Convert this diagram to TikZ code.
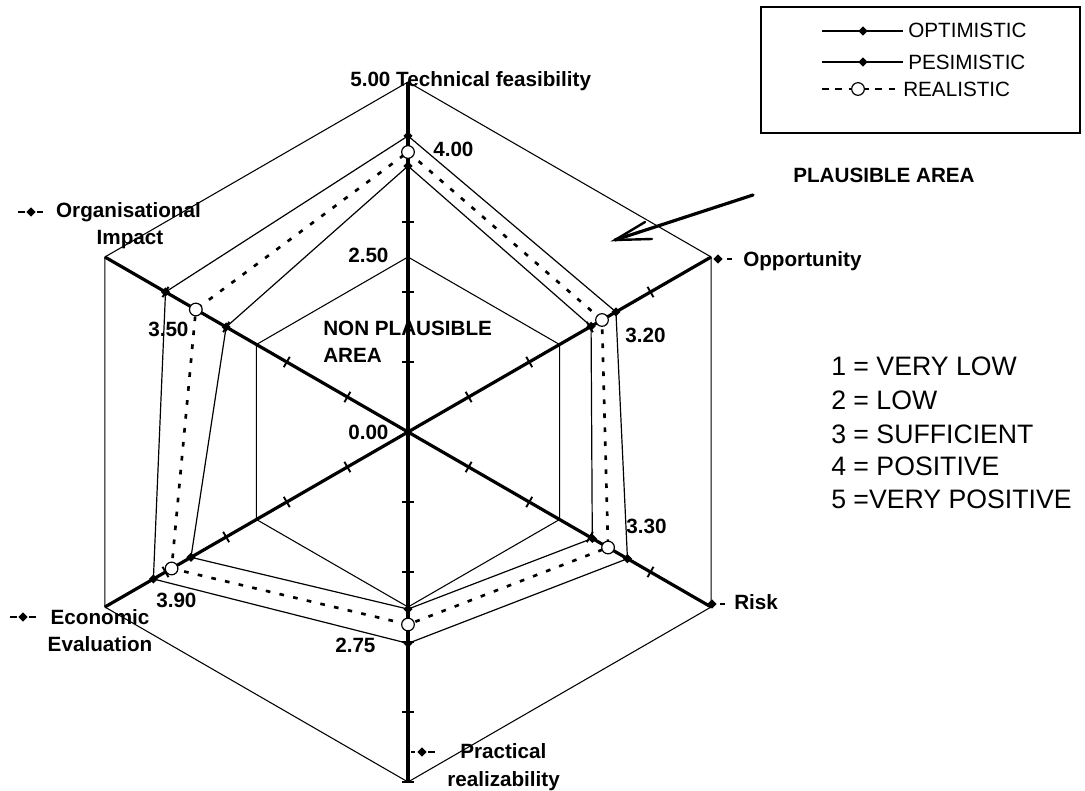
\documentclass[tikz,border=0pt]{standalone}
\usepackage{fontspec}
\setmainfont{Liberation Sans}
\usetikzlibrary{shapes.geometric}
\begin{document}
\begin{tikzpicture}[x=0.75pt,y=-0.75pt,
  lbl/.style={font=\fontsize{15.5}{18}\selectfont\bfseries, inner sep=0pt},
  scaletxt/.style={font=\fontsize{20}{24}\selectfont, inner sep=0pt, anchor=base west},
  legtxt/.style={font=\fontsize{15.5}{18}\selectfont, inner sep=0pt, anchor=base west},
  gridline/.style={line width=0.8pt},
  axisline/.style={line width=2.4pt},
  tickline/.style={line width=1.4pt},
  optline/.style={line width=0.9pt},
  pesline/.style={line width=0.9pt},
  realline/.style={line width=2pt, dash pattern=on 3.5pt off 7pt},
  keydash/.style={line width=0.8pt},
  dmark/.style={diamond, fill=black, inner sep=0pt, minimum width=7pt, minimum height=7pt},
  cmark/.style={circle, draw=black, fill=white, line width=0.9pt, inner sep=0pt, minimum size=9.5pt},
]
\useasboundingbox (0,0) rectangle (1085,791);

% ---------- radar chart ----------
\begin{scope}[shift={(408,432)}, yscale=-1]
  \coordinate (O) at (0,0);
  % axis end points (value 5) and mid grid (value 2.5), 70 units per value
  \foreach \n/\a in {tech/90,opp/30,risk/-30,prac/-90,econ/210,org/150} {
    \coordinate (\n5) at (\a:350);
    \coordinate (\n25) at (\a:175);
  }
  % grid hexagons
  \draw[gridline] (tech5) -- (opp5) -- (risk5) -- (prac5) -- (econ5) -- (org5) -- cycle;
  \draw[gridline] (tech25) -- (opp25) -- (risk25) -- (prac25) -- (econ25) -- (org25) -- cycle;
  % axes
  \foreach \n in {tech,opp,risk,prac,econ,org}
    \draw[axisline] (O) -- (\n5);
  % unit ticks
  \foreach \a in {90,30,-30,-90,210,150}
    \foreach \k in {1,2,3,4}
      \draw[tickline, rotate=\a] (\k*70,-6) -- (\k*70,6);
  \draw[tickline] (-6,-350) -- (6,-350);

  % optimistic
  \coordinate (o1) at (90:296.1);
  \coordinate (o2) at (30:240.1);
  \coordinate (o3) at (-30:253.4);
  \coordinate (o4) at (-90:211.4);
  \coordinate (o5) at (210:294);
  \coordinate (o6) at (150:280);
  % pessimistic
  \coordinate (p1) at (90:266);
  \coordinate (p2) at (30:211.4);
  \coordinate (p3) at (-30:212.8);
  \coordinate (p4) at (-90:177.1);
  \coordinate (p5) at (210:250.6);
  \coordinate (p6) at (150:210);
  % realistic
  \coordinate (r1) at (90:280);
  \coordinate (r2) at (30:224);
  \coordinate (r3) at (-30:231);
  \coordinate (r4) at (-90:192.5);
  \coordinate (r5) at (210:273);
  \coordinate (r6) at (150:245);

  \draw[optline] (o1) -- (o2) -- (o3) -- (o4) -- (o5) -- (o6) -- cycle;
  \draw[pesline] (p1) -- (p2) -- (p3) -- (p4) -- (p5) -- (p6) -- cycle;
  \draw[realline] (r1) -- (r2) -- (r3) -- (r4) -- (r5) -- (r6) -- cycle;
  \foreach \i in {1,...,6} {
    \node[dmark] (mo\i) at (o\i) {};
    \node[dmark] (mp\i) at (p\i) {};
    \node[cmark] (mr\i) at (r\i) {};
  }
\end{scope}

% ---------- axis labels ----------
\node[lbl, anchor=base west] (techlbl) at (350,87) {5.00 Technical feasibility};
\node[lbl, anchor=base] (orglbl1) at (128.5,218) {Organisational};
\node[lbl, anchor=base] (orglbl2) at (130,245) {Impact};
\node[lbl, anchor=base] (econlbl1) at (100,624) {Economic};
\node[lbl, anchor=base] (econlbl2) at (100,651) {Evaluation};
\node[lbl, anchor=base west] (opplbl) at (743,267) {Opportunity};
\node[lbl, anchor=base west] (risklbl) at (734,609) {Risk};
\node[lbl, anchor=base west] (praclbl1) at (460,758) {Practical};
\node[lbl, anchor=base west] (praclbl2) at (447,786) {realizability};

% small key marks in front of the axis labels
\draw[keydash] (18,212) -- (25,212) (37,212) -- (43,212);
\node[dmark] (korg) at (31,212) {};
\draw[keydash] (10,617) -- (17,617) (29,617) -- (36,617);
\node[dmark] (kecon) at (23,617) {};
\node[dmark] (kopp) at (718,259) {};
\draw[keydash] (727,259) -- (732,259);
\node[dmark] (krisk) at (712,604) {};
\draw[keydash] (720,604) -- (725,604);
\draw[keydash] (411,752) -- (415,752) (428,752) -- (435,752);
\node[dmark] (kprac) at (422,752) {};

% ---------- value labels ----------
\node[lbl, anchor=base west] (v400) at (433,157) {4.00};
\node[lbl, anchor=base west] (v250) at (348,263) {2.50};
\node[lbl, anchor=base west] (v000) at (348,440) {0.00};
\node[lbl, anchor=base west] (v350) at (148,337) {3.50};
\node[lbl, anchor=base west] (v320) at (625,343) {3.20};
\node[lbl, anchor=base west] (v330) at (626,533) {3.30};
\node[lbl, anchor=base west] (v390) at (156,607) {3.90};
\node[lbl, anchor=base west] (v275) at (335,652) {2.75};

% ---------- areas ----------
\node[lbl, anchor=base west] (npa1) at (323,336) {NON PLAUSIBLE};
\node[lbl, anchor=base west] (npa2) at (323,363) {AREA};
\node[lbl, anchor=base west] (pa) at (793,183) {PLAUSIBLE AREA};
\coordinate (arrtail) at (753,195);
\coordinate (arrtip) at (615,240);
\coordinate (arrb1) at (645,222);
\coordinate (arrb2) at (652,239);
\draw[line width=2.4pt, line cap=round] (arrtail) -- (arrtip);
\draw[line width=1.8pt, line cap=round, line join=miter] (arrb1) -- (arrtip) -- (arrb2);

% ---------- rating scale ----------
\node[scaletxt] (s1) at (831,376) {1 = VERY LOW};
\node[scaletxt] (s2) at (831,410) {2 = LOW};
\node[scaletxt] (s3) at (831,443) {3 = SUFFICIENT};
\node[scaletxt] (s4) at (831,475) {4 = POSITIVE};
\node[scaletxt] (s5) at (831,508) {5 =VERY POSITIVE};

% ---------- legend ----------
\draw[line width=1.1pt] (761,7) rectangle (1080,133);
\draw[optline] (822,31) -- (903,31);
\node[dmark] (lopt) at (863,31) {};
\node[legtxt] (topt) at (908,38) {OPTIMISTIC};
\draw[pesline] (822,62) -- (903,62);
\node[dmark] (lpes) at (863,62) {};
\node[legtxt] (tpes) at (908,70) {PESIMISTIC};
\draw[line width=1.1pt, dash pattern=on 5pt off 5pt] (822,89) -- (900,89);
\node[cmark] (lreal) at (858,89) {};
\node[legtxt] (treal) at (903,97) {REALISTIC};
\end{tikzpicture}
\end{document}
